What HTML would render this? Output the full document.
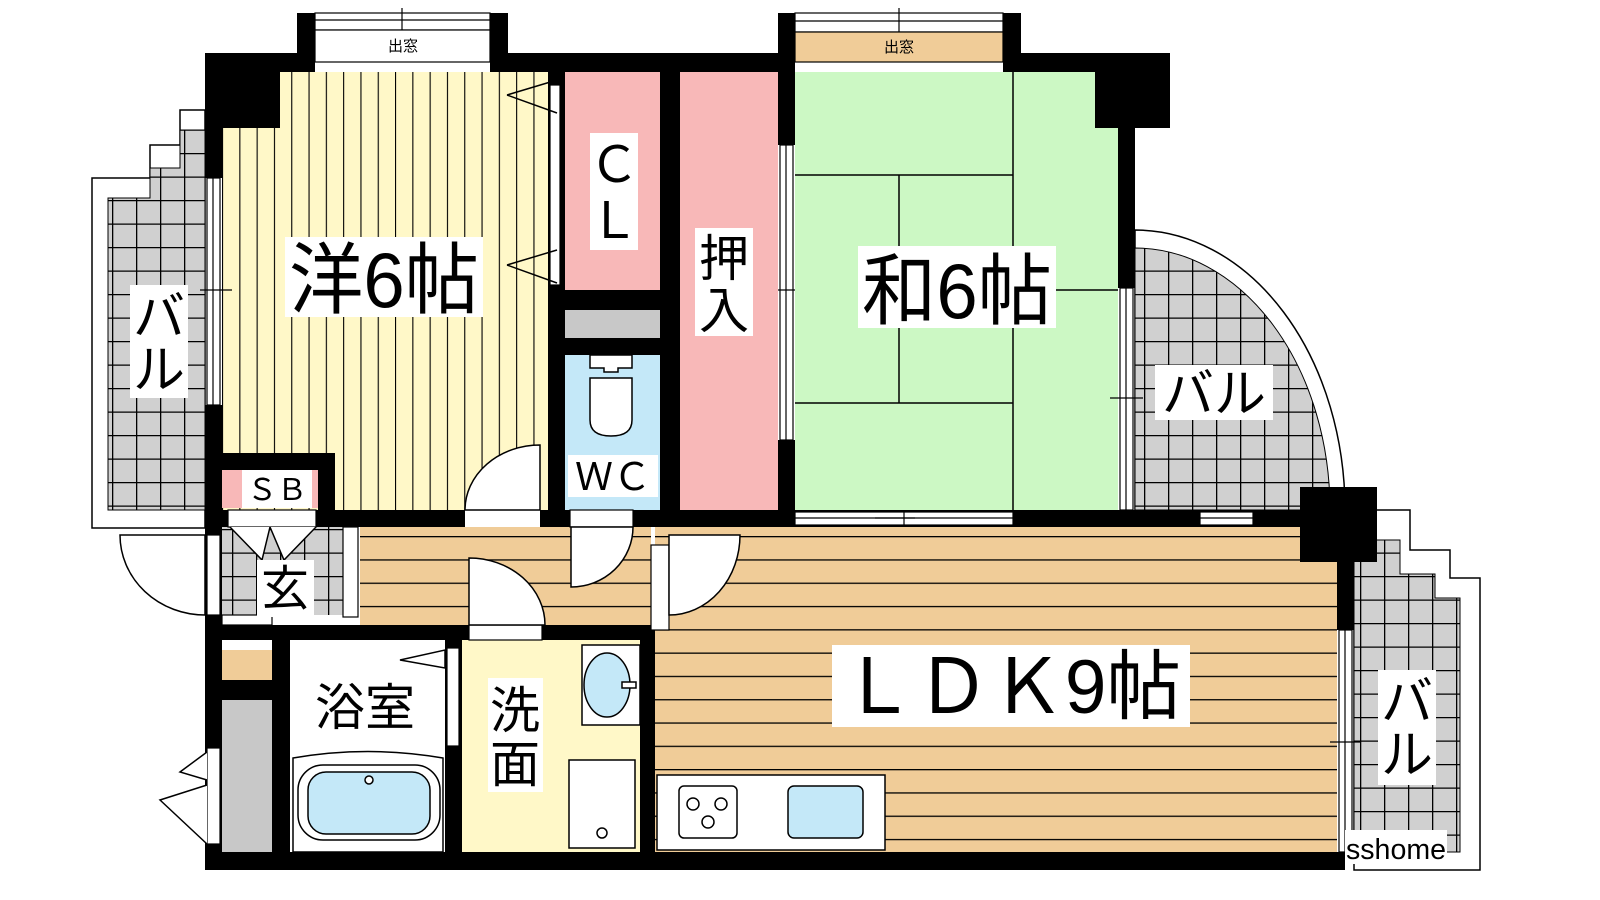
<!DOCTYPE html>
<html><head><meta charset="utf-8"><style>
html,body{margin:0;padding:0;background:#fff;width:1600px;height:900px;overflow:hidden}
svg{display:block}
text{font-family:"Liberation Sans","Noto Sans CJK JP",sans-serif}
</style></head><body>
<svg width="1600" height="900" viewBox="0 0 1600 900" xmlns="http://www.w3.org/2000/svg">
<defs>
<pattern id="vs" width="17.3" height="10" patternUnits="userSpaceOnUse" x="222">
<rect width="17.3" height="10" fill="#fff8c8"/><line x1="0.5" y1="0" x2="0.5" y2="10" stroke="#000" stroke-width="1.2"/></pattern>
<pattern id="hs" width="10" height="23.3" patternUnits="userSpaceOnUse" y="536">
<rect width="10" height="23.3" fill="#f0cc98"/><line x1="0" y1="0.5" x2="10" y2="0.5" stroke="#000" stroke-width="1.6"/></pattern>
<pattern id="grid" width="24" height="23.5" patternUnits="userSpaceOnUse" x="112" y="200">
<rect width="24" height="23.5" fill="#d0d0d0"/><path d="M0 0.5H24M0.5 0V23.5" stroke="#000" stroke-width="1.6"/></pattern>
</defs>

<!-- Left balcony -->
<path d="M92 178H150V145H180V110H205V528H92Z" fill="#fff" stroke="#000" stroke-width="1.5"/>
<path d="M108 198H150V168H180V130H205V510H108Z" fill="url(#grid)" stroke="#000" stroke-width="1"/>
<!-- Right balcony -->
<path d="M1354 510H1410V550H1450V578H1480V870H1354Z" fill="#fff" stroke="#000" stroke-width="1.5"/>
<path d="M1354 540H1400V574H1435V598H1460V852H1354Z" fill="url(#grid)" stroke="#000" stroke-width="1"/>
<!-- quarter circle balcony -->
<path d="M1135 230A210 280 0 0 1 1345 510H1135Z" fill="#fff" stroke="#000" stroke-width="1.5"/>
<path d="M1135 248A195 262 0 0 1 1330 510H1135Z" fill="url(#grid)" stroke="#000" stroke-width="1"/>

<!-- Rooms -->
<path d="M280 72H548V510H222V128H280Z" fill="url(#vs)"/>
<rect x="565" y="72" width="95" height="218" fill="#f8b8b8"/>
<rect x="565" y="310" width="95" height="28" fill="#c8c8c8"/>
<rect x="565" y="355" width="95" height="155" fill="#c4e8f8"/>
<rect x="680" y="72" width="98" height="438" fill="#f8b8b8"/>
<path d="M795 72H1095V128H1118V510H795Z" fill="#ccf8c4"/>
<g stroke="#000" stroke-width="1.5">
<line x1="1013" y1="72" x2="1013" y2="510"/><line x1="795" y1="175" x2="1013" y2="175"/>
<line x1="899" y1="175" x2="899" y2="403"/><line x1="795" y1="403" x2="1013" y2="403"/>
<line x1="1013" y1="290" x2="1118" y2="290"/></g>
<rect x="360" y="527" width="291" height="98" fill="url(#hs)"/>
<path d="M655 527H1300V562H1337V855H655Z" fill="url(#hs)"/>
<rect x="222" y="527" width="121" height="88" fill="url(#grid)"/>
<rect x="222" y="470" width="96" height="38" fill="#f8b8b8"/>
<rect x="222" y="650" width="50" height="30" fill="#f0cc98"/>
<rect x="222" y="700" width="50" height="152" fill="#c8c8c8"/>
<rect x="290" y="640" width="155" height="212" fill="#fff"/>
<rect x="462" y="640" width="178" height="212" fill="#fff8c8"/>

<!-- Walls -->
<g fill="#000">
<rect x="205" y="53" width="92" height="19"/><rect x="205" y="53" width="75" height="75"/>
<rect x="297" y="13" width="18" height="59"/><rect x="490" y="13" width="18" height="59"/>
<rect x="508" y="53" width="270" height="19"/>
<rect x="778" y="13" width="17" height="59"/><rect x="1003" y="13" width="18" height="59"/>
<rect x="1003" y="53" width="167" height="19"/><rect x="1095" y="53" width="75" height="75"/>
<rect x="1118" y="128" width="17" height="160"/>
<rect x="205" y="53" width="17" height="125"/><rect x="205" y="405" width="17" height="465"/>
<rect x="548" y="72" width="17" height="455"/>
<rect x="660" y="72" width="20" height="455"/>
<rect x="565" y="290" width="95" height="20"/><rect x="565" y="338" width="95" height="17"/>
<rect x="778" y="72" width="17" height="73"/><rect x="778" y="440" width="17" height="87"/>
<rect x="205" y="510" width="1095" height="17"/>
<rect x="205" y="453" width="130" height="17"/><rect x="318" y="453" width="17" height="74"/>
<rect x="1300" y="487" width="77" height="75"/><rect x="1337" y="562" width="17" height="68"/>
<rect x="205" y="625" width="450" height="15"/>
<rect x="272" y="625" width="18" height="245"/>
<rect x="445" y="640" width="17" height="215"/>
<rect x="640" y="625" width="15" height="245"/>
<rect x="205" y="852" width="1140" height="18"/>
<rect x="222" y="680" width="50" height="20"/>
</g>

<!-- Windows / openings -->
<g fill="#fff" stroke="#000" stroke-width="1.2">
<rect x="315" y="13" width="175" height="17"/><rect x="315" y="30" width="175" height="32"/>
<rect x="795" y="13" width="208" height="19"/><rect x="795" y="32" width="208" height="30" fill="#f0cc98"/>
<rect x="207" y="178" width="13" height="227"/>
<rect x="780" y="145" width="13" height="295"/>
<rect x="1120" y="288" width="13" height="222"/>
<rect x="795" y="512" width="218" height="13"/>
<rect x="1200" y="512" width="53" height="13"/>
<rect x="1339" y="630" width="13" height="222"/>
<rect x="465" y="510" width="75" height="17" stroke="none"/>
<rect x="570" y="510" width="63" height="17"/>
<rect x="228" y="510" width="88" height="17"/>
<rect x="343" y="527" width="15" height="90"/>
<rect x="207" y="535" width="13" height="80"/>
<rect x="469" y="625" width="73" height="15"/>
<rect x="651" y="545" width="18" height="85"/>
<rect x="222" y="615" width="50" height="10"/>
<rect x="207" y="748" width="13" height="96"/>
<rect x="550" y="85" width="10" height="200"/>
<rect x="447" y="648" width="12" height="98"/>
</g>
<g stroke="#000" stroke-width="1.2" fill="none">
<line x1="315" y1="20" x2="490" y2="20"/><line x1="402" y1="8" x2="402" y2="30"/>
<line x1="795" y1="21" x2="1003" y2="21"/><line x1="899" y1="8" x2="899" y2="32"/>
<line x1="213" y1="178" x2="213" y2="405"/><line x1="200" y1="290" x2="232" y2="290"/>
<line x1="786" y1="145" x2="786" y2="440"/><line x1="778" y1="290" x2="795" y2="290"/>
<line x1="1126" y1="288" x2="1126" y2="510"/><line x1="1110" y1="398" x2="1143" y2="398"/>
<line x1="795" y1="518" x2="1013" y2="518"/><line x1="875" y1="518" x2="915" y2="518"/><line x1="904" y1="512" x2="904" y2="525"/>
<line x1="1200" y1="518" x2="1253" y2="518"/>
<line x1="1345" y1="630" x2="1345" y2="852"/><line x1="1330" y1="742" x2="1360" y2="742"/>
</g>

<!-- doors -->
<g fill="#fff" stroke="#000" stroke-width="1.5">
<path d="M540 445V510H465A75 65 0 0 1 540 445Z"/>
<path d="M571 527H633A62 60 0 0 1 571 587Z"/>
<path d="M669 535H740A71 80 0 0 1 669 615Z"/>
<path d="M469 558V625H545A76 67 0 0 0 469 558Z"/>
<path d="M205 535V615A85 80 0 0 1 120 535Z"/>
<path d="M507 95L557 80M507 95L557 113M507 265L557 250M507 265L557 283"/>
<path d="M400 660L445 650V668Z"/>
<path d="M230 527L262 560L270 527M316 527L284 560L270 527"/>
<path d="M207 752L180 772L207 780M207 785L160 800L207 844"/>
</g>

<!-- fixtures -->
<g stroke="#000" stroke-width="1.5">
<path d="M590 355H632V368H618V372H604V368H590Z M590 378H632V420Q632 436 611 436Q590 436 590 420Z" fill="#fff"/>
<path d="M293 758Q368 745 443 758V852H293Z" fill="#fff"/>
<rect x="298" y="765" width="142" height="75" rx="25" fill="#fff"/>
<rect x="308" y="772" width="122" height="62" rx="18" fill="#c4e8f8"/>
<circle cx="369" cy="780" r="4" fill="#fff"/>
<rect x="582" y="645" width="58" height="80" fill="#fff"/>
<ellipse cx="607" cy="685" rx="23" ry="32" fill="#c4e8f8"/>
<rect x="622" y="682" width="14" height="6" fill="#fff"/>
<rect x="569" y="760" width="66" height="88" fill="#fff"/>
<circle cx="602" cy="833" r="5" fill="#fff"/>
<rect x="657" y="775" width="228" height="75" fill="#fff"/>
<rect x="679" y="786" width="58" height="52" rx="5" fill="#fff"/>
<rect x="788" y="786" width="75" height="52" rx="6" fill="#c4e8f8"/>
<circle cx="693" cy="804" r="6" fill="#fff"/><circle cx="721" cy="804" r="6" fill="#fff"/><circle cx="708" cy="822" r="6" fill="#fff"/>
</g>

<!-- labels -->
<g font-size="15" text-anchor="middle"><rect x="380" y="33" width="46" height="22" fill="#fff"/><text x="403" y="51">出窓</text>
<text x="899" y="52">出窓</text></g>
<rect x="285" y="237" width="198" height="80" fill="#fff"/>
<text x="384" y="307" font-size="78" text-anchor="middle" textLength="190" lengthAdjust="spacingAndGlyphs">洋6帖</text>
<rect x="858" y="246" width="198" height="82" fill="#fff"/>
<text x="957" y="318" font-size="78" text-anchor="middle" textLength="190" lengthAdjust="spacingAndGlyphs">和6帖</text>
<rect x="832" y="645" width="358" height="82" fill="#fff"/>
<text x="1011" y="713" font-size="76" text-anchor="middle" textLength="340" lengthAdjust="spacingAndGlyphs">ＬＤＫ9帖</text>
<rect x="590" y="133" width="48" height="117" fill="#fff"/>
<text x="614" y="182" font-size="50" text-anchor="middle">Ｃ</text><text x="614" y="238" font-size="50" text-anchor="middle">Ｌ</text>
<rect x="695" y="228" width="58" height="108" fill="#fff"/>
<text x="724" y="276" font-size="50" text-anchor="middle">押</text><text x="724" y="328" font-size="50" text-anchor="middle">入</text>
<rect x="568" y="455" width="90" height="42" fill="#fff"/>
<text x="613" y="490" font-size="38" text-anchor="middle">ＷＣ</text>
<rect x="130" y="285" width="58" height="113" fill="#fff"/>
<text x="159" y="335" font-size="52" text-anchor="middle">バ</text><text x="159" y="388" font-size="52" text-anchor="middle">ル</text>
<rect x="1155" y="365" width="118" height="55" fill="#fff"/>
<text x="1214" y="412" font-size="52" text-anchor="middle">バル</text>
<rect x="1378" y="670" width="58" height="115" fill="#fff"/>
<text x="1407" y="720" font-size="52" text-anchor="middle">バ</text><text x="1407" y="773" font-size="52" text-anchor="middle">ル</text>
<rect x="242" y="470" width="70" height="38" fill="#fff"/>
<text x="277" y="500" font-size="30" text-anchor="middle">ＳＢ</text>
<rect x="257" y="560" width="57" height="57" fill="#fff"/>
<text x="285" y="605" font-size="48" text-anchor="middle">玄</text>
<text x="365" y="725" font-size="50" text-anchor="middle">浴室</text>
<rect x="488" y="678" width="55" height="114" fill="#fff"/>
<text x="515" y="728" font-size="50" text-anchor="middle">洗</text><text x="515" y="782" font-size="50" text-anchor="middle">面</text>
<rect x="1345" y="830" width="102" height="34" fill="#fff"/>
<text x="1396" y="859" font-size="29" text-anchor="middle" textLength="100" lengthAdjust="spacingAndGlyphs">sshome</text>
</svg>
</body></html>
